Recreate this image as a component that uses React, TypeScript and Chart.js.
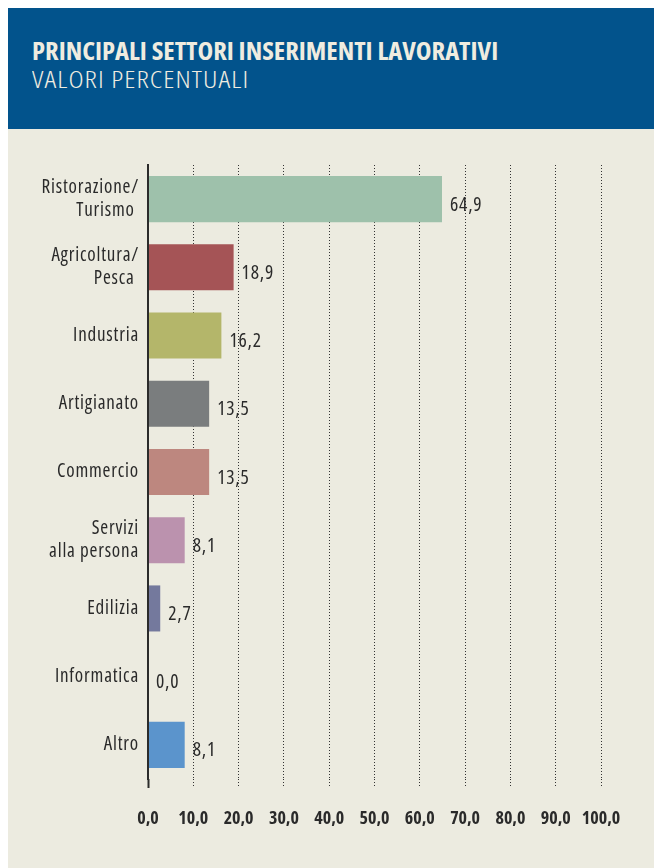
import React, { useEffect, useRef } from "react";
import { Chart, registerables } from "chart.js";

Chart.register(...registerables);

const categories: string[][] = [
  ["Ristorazione/", "Turismo "],
  ["Agricoltura/", "Pesca "],
  ["Industria"],
  ["Artigianato"],
  ["Commercio"],
  ["Servizi", "alla persona"],
  ["Edilizia"],
  ["Informatica"],
  ["Altro"],
];
const values: number[] = [64.9, 18.9, 16.2, 13.5, 13.5, 8.1, 2.7, 0.0, 8.1];
const barColors: string[] = [
  "#9EC1AB",
  "#A55456",
  "#B4B66A",
  "#7A7D7E",
  "#BD877F",
  "#BB92AE",
  "#74799D",
  "#888888",
  "#5B94CC",
];
const xTicks: number[] = [0, 10, 20, 30, 40, 50, 60, 70, 80, 90, 100];
const title = "PRINCIPALI SETTORI INSERIMENTI LAVORATIVI";
const subtitle = "VALORI PERCENTUALI";

const fmt = (v: number) => v.toFixed(1).replace(".", ",");
const FAM = "'Open Sans', sans-serif";

const valueLabels = {
  id: "valueLabels",
  afterDatasetsDraw(chart: any) {
    const ctx = chart.ctx;
    const meta = chart.getDatasetMeta(0);
    ctx.save();
    ctx.fillStyle = "#2a2a2a";
    ctx.font = `normal condensed 19.5px ${FAM}`;
    ctx.letterSpacing = "0.8px";
    ctx.textBaseline = "middle";
    ctx.textAlign = "left";
    meta.data.forEach((bar: any, i: number) => {
      ctx.fillText(fmt(values[i]), bar.x + 8, bar.y + 6);
    });
    ctx.restore();
    // letter spacing for the category labels drawn in the next layer
    ctx.letterSpacing = "0.8px";
  },
  afterDraw(chart: any) {
    chart.ctx.letterSpacing = "0px";
  },
};

export default function App() {
  const ref = useRef<HTMLCanvasElement | null>(null);
  useEffect(() => {
    if (!ref.current) return;
    const chart = new Chart(ref.current, {
      type: "bar",
      data: {
        labels: categories,
        datasets: [
          {
            data: values,
            backgroundColor: barColors,
            borderWidth: 0,
            barPercentage: 0.675,
            categoryPercentage: 1,
          },
        ],
      },
      options: {
        indexAxis: "y",
        animation: false,
        responsive: false,
        maintainAspectRatio: false,
        layout: { padding: { top: 36, right: 53, left: 0, bottom: 0 } },
        plugins: {
          legend: { display: false },
          tooltip: { enabled: false },
          title: { display: false },
        },
        scales: {
          x: {
            min: 0,
            max: 100,
            afterBuildTicks: (scale: any) => {
              scale.ticks = xTicks.map((v) => ({ value: v }));
            },
            afterFit: (scale: any) => {
              scale.height = 89;
            },
            ticks: {
              callback: (v: any) => fmt(Number(v)),
              color: "#2a2a2a",
              font: { family: FAM, size: 18, weight: "bold condensed" },
              padding: 20,
              maxRotation: 0,
              autoSkip: false,
            },
            grid: {
              color: (c: any) => (c.tick && c.tick.value === 0 ? "rgba(0,0,0,0)" : "#333333"),
              lineWidth: 1,
              drawTicks: true,
              tickLength: 9,
              tickColor: (c: any) => (c.tick && c.tick.value === 0 ? "#2b2b2b" : "#333333"),
              tickWidth: (c: any) => (c.tick && c.tick.value === 0 ? 2 : 1),
              tickBorderDash: (c: any) => (c.tick && c.tick.value === 0 ? [] : [1, 2]),
            },
            border: { display: false, dash: [1, 2] },
          },
          y: {
            afterFit: (scale: any) => {
              scale.width = 140;
            },
            ticks: {
              z: 1,
              color: "#2a2a2a",
              font: { family: FAM, size: 19, weight: "normal condensed", lineHeight: 1.2 },
              padding: 9,
              autoSkip: false,
            },
            grid: { display: false, drawTicks: false },
            border: { display: true, color: "#2b2b2b", width: 2, z: 1 },
          },
        },
      },
      plugins: [valueLabels],
    } as any);
    return () => chart.destroy();
  }, []);

  return (
    <div style={{ position: "fixed", left: 8, top: 8, width: 646, height: 860, background: "#ECEBE0", overflow: "hidden" }}>
      <div style={{ position: "absolute", left: 0, top: 0, width: 646, height: 121, background: "#02538C" }}>
        <div
          style={{
            position: "absolute",
            left: 24,
            top: 31,
            fontFamily: FAM,
            fontWeight: "bold",
            fontStretch: "condensed",
            fontSize: 24,
            lineHeight: "24px",
            color: "#EFECE0",
            whiteSpace: "nowrap",
            transform: "scaleX(1.107)",
            transformOrigin: "0 0",
          }}
        >
          {title}
        </div>
        <div
          style={{
            position: "absolute",
            left: 24,
            top: 59,
            fontFamily: FAM,
            fontWeight: 300,
            fontStretch: "condensed",
            fontSize: 24,
            lineHeight: "24px",
            letterSpacing: "0.9px",
            color: "#EFECE0",
            whiteSpace: "nowrap",
            transform: "scaleX(1.2)",
            transformOrigin: "0 0",
          }}
        >
          {subtitle}
        </div>
      </div>
      <canvas ref={ref} width={646} height={739} style={{ position: "absolute", left: 0, top: 121, display: "block" }} />
    </div>
  );
}
